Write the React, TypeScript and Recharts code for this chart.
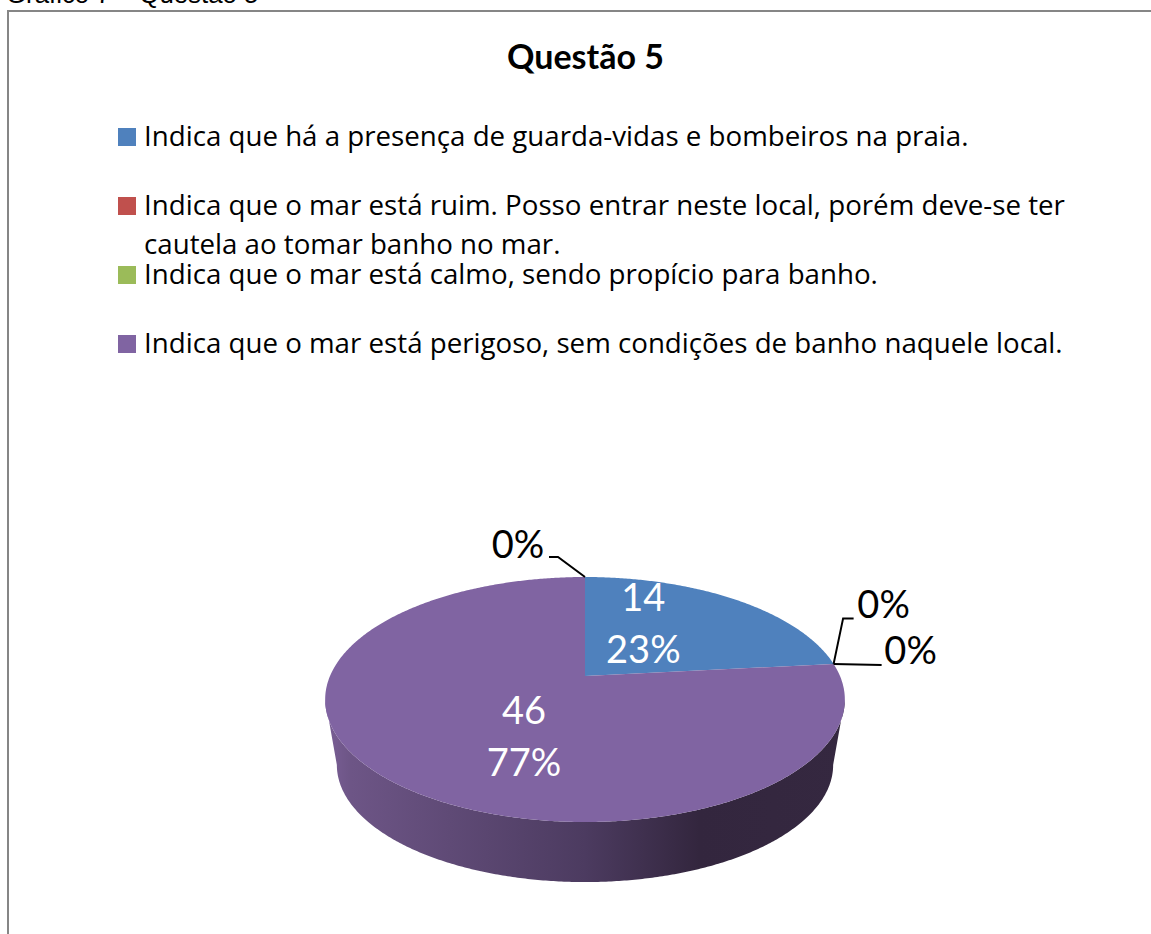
import React from "react";
import { PieChart, Pie, Legend } from "recharts";

const categories = [
	"Indica que há a presença de guarda-vidas e bombeiros na praia.",
	"Indica que o mar está ruim. Posso entrar neste local, porém deve-se ter cautela ao tomar banho no mar.",
	"Indica que o mar está calmo, sendo propício para banho.",
	"Indica que o mar está perigoso, sem condições de banho naquele local.",
	"",
];
const counts = [14, 0, 0, 46, 0];
const colors = ["#4F81BD", "#C0504D", "#9BBB59", "#8064A2", "#4BACC6"];

const data = categories.map((name, i) => ({ name, value: counts[i], fill: colors[i] }));

// label anchor and leader line, relative to the slice's rim point
const labelOffsets = [
	{ dx: -91, dy: 12, leader: [] },
	{ dx: 50, dy: -46, leader: [[0, 0], [9.5, -45.5], [20, -45.5]] },
	{ dx: 77, dy: 0, leader: [[0, 0], [48, 1]] },
	{ dx: 138, dy: -54, leader: [] },
	{ dx: -67, dy: -19, leader: [[0, 0], [-27, -20], [-36, -20]] },
];

// fake 3d: perspective projection of the flat pie
const TILT = 118 / 255;
const PERSPECTIVE = 0.192;
const WALL_SCALE = 0.955;
const WALL_DROP = 66.6;
const WALL_FROM = 101;
const WALL_TO = 259;

const FONT = "Lato, sans-serif";
const LEGEND_FONT = "'Open Sans', sans-serif";

function project(cx: number, cy: number, r: number, theta: number, scale = 1, drop = 0) {
	const a = (theta * Math.PI) / 180;
	const w = 1 + PERSPECTIVE * Math.cos(a);
	return [
		cx + (scale * r * Math.sin(a)) / w,
		cy + drop - (scale * r * TILT * Math.cos(a)) / w,
	];
}

function arcPoints(cx: number, cy: number, r: number, from: number, to: number, scale = 1, drop = 0) {
	const pts: number[][] = [];
	const steps = Math.max(2, Math.ceil(Math.abs(to - from) * 2));
	for (let i = 0; i <= steps; i++) {
		pts.push(project(cx, cy, r, from + ((to - from) * i) / steps, scale, drop));
	}
	return pts;
}

const toPath = (pts: number[][]) => pts.map((p) => p[0].toFixed(2) + "," + p[1].toFixed(2)).join(" L");

function Slice(props: any) {
	const { cx, cy, outerRadius, startAngle, endAngle, fill } = props;
	const from = 90 - startAngle;
	const to = 90 - endAngle;
	if (to - from < 0.01) return null;
	const top = arcPoints(cx, cy, outerRadius, from, to);
	const wallFrom = Math.max(from, WALL_FROM);
	const wallTo = Math.min(to, WALL_TO);
	let wall = null;
	if (wallTo > wallFrom) {
		const upper = arcPoints(cx, cy, outerRadius, wallFrom, wallTo);
		const lower = arcPoints(cx, cy, outerRadius, wallTo, wallFrom, WALL_SCALE, WALL_DROP);
		wall = <path d={"M" + toPath(upper.concat(lower)) + " Z"} fill="url(#wallShade)" />;
	}
	return (
		<g>
			{wall}
			<path d={"M" + cx + "," + cy + " L" + toPath(top) + " Z"} fill={fill} />
		</g>
	);
}

function SliceLabel(props: any) {
	const { cx, cy, outerRadius, midAngle, index, percent, value } = props;
	const off = labelOffsets[index];
	const [rx, ry] = project(cx, cy, outerRadius, 90 - midAngle);
	const x = rx + off.dx;
	const y = ry + off.dy;
	const pct = Math.round(percent * 100) + "%";
	const color = value > 0 ? "#fff" : "#000";
	return (
		<g>
			{off.leader.length > 0 && (
				<polyline
					points={off.leader.map((p) => rx + p[0] + "," + (ry + p[1])).join(" ")}
					fill="none"
					stroke="#000"
					strokeWidth={2}
				/>
			)}
			<text x={x} y={y} textAnchor="middle" fontFamily={FONT} fontSize={38} fill={color}>
				{value > 0 ? value : pct}
			</text>
			{value > 0 && (
				<text x={x} y={y + 52} textAnchor="middle" fontFamily={FONT} fontSize={38} fill={color}>
					{pct}
				</text>
			)}
		</g>
	);
}

function LegendList(props: any) {
	const items = (props.payload || []).filter((p: any) => p.value);
	return (
		<div style={{ position: "relative", fontFamily: LEGEND_FONT, fontSize: 27.7, lineHeight: "39px", color: "#000" }}>
			{items.map((p: any, i: number) => (
				<div key={i} style={{ position: "absolute", left: 0, top: i * 69, width: 960 }}>
					<span
						style={{ position: "absolute", left: 0, top: 12, width: 18, height: 18, background: p.color }}
					/>
					<div style={{ marginLeft: 26 }}>{p.value}</div>
				</div>
			))}
		</div>
	);
}

export default function App() {
	return (
		<div style={{ position: "absolute", left: 0, top: 0, width: 1151, height: 934, overflow: "hidden", background: "#fff" }}>
			<div style={{ position: "absolute", left: 6, top: -18, fontFamily: "Liberation Sans", fontSize: 25.8, lineHeight: "24px", whiteSpace: "nowrap" }}>
				Gráfico 7 – Questão 5
			</div>
			<div
				style={{
					position: "absolute",
					left: 7,
					top: 10,
					width: 1144,
					height: 924,
					borderLeft: "2px solid #868686",
					borderTop: "2px solid #868686",
				}}
			/>
			<div
				style={{
					position: "absolute",
					left: 0,
					width: 1171,
					top: 36,
					textAlign: "center",
					fontFamily: FONT,
					fontWeight: 700,
					fontSize: 34,
					lineHeight: "40px",
				}}
			>
				Questão 5
			</div>
			<div style={{ position: "absolute", left: 0, top: 0 }}>
				<PieChart width={1151} height={934} margin={{ top: 0, right: 0, bottom: 0, left: 0 }}>
					<defs>
						<linearGradient id="wallShade" gradientUnits="userSpaceOnUse" x1={325} y1={0} x2={845} y2={0}>
							<stop offset="0%" stopColor="#7A5F96" />
							<stop offset="5%" stopColor="#6D5586" />
							<stop offset="50%" stopColor="#4C3B60" />
							<stop offset="72%" stopColor="#33263E" />
							<stop offset="100%" stopColor="#352840" />
						</linearGradient>
					</defs>
					<Pie
						data={data}
						dataKey="value"
						nameKey="name"
						cx={585}
						cy={676}
						innerRadius={0}
						outerRadius={255}
						startAngle={90}
						endAngle={-270}
						shape={Slice}
						label={SliceLabel}
						labelLine={false}
						isAnimationActive={false}
					/>
					<Legend
						layout="vertical"
						align="center"
						verticalAlign="middle"
						content={LegendList}
						itemSorter={null}
						wrapperStyle={{ left: 118, top: 116, width: 960, height: 0 }}
					/>
				</PieChart>
			</div>
		</div>
	);
}
